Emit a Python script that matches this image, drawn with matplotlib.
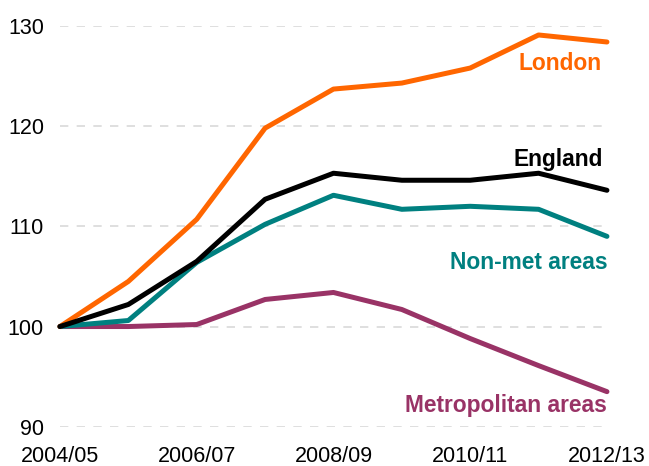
import matplotlib
matplotlib.use('Agg')
import matplotlib.pyplot as plt

plt.rcParams['font.family'] = ['Liberation Sans', 'DejaVu Sans']

years = ['2004/05', '2005/06', '2006/07', '2007/08', '2008/09',
         '2009/10', '2010/11', '2011/12', '2012/13']
london = [100, 104.5, 110.7, 119.8, 123.7, 124.3, 125.8, 129.1, 128.4]
england = [100, 102.2, 106.5, 112.7, 115.3, 114.6, 114.6, 115.3, 113.6]
nonmet = [100, 100.6, 106.4, 110.2, 113.1, 111.7, 112.0, 111.7, 109.0]
metro = [100, 100.0, 100.2, 102.7, 103.4, 101.7, 98.8, 96.1, 93.5]
yticks = [90, 100, 110, 120, 130]

fig = plt.figure(figsize=(6.49, 4.66), dpi=100)
ax = fig.add_axes([0.0924, 0.0843, 0.8428, 0.86])

x = list(range(len(years)))
for yv in yticks:
    ax.axhline(yv, color='#D9D9D9', lw=1.2, dashes=(5, 5), zorder=0)

lw = 3.6
ax.plot(x, metro, color='#993366', lw=lw, clip_on=False, solid_capstyle='round')
ax.plot(x, nonmet, color='#008080', lw=lw, clip_on=False, solid_capstyle='round')
ax.plot(x, london, color='#FF6600', lw=lw, clip_on=False, solid_capstyle='round')
ax.plot(x, england, color='#000000', lw=lw, clip_on=False, solid_capstyle='round')

fs = 16.4
ax.text(7.92, 125.57, 'London', color='#FF6600', fontsize=fs, fontweight='bold', ha='right', va='baseline')
ax.text(7.94, 116.07, 'England', color='#000000', fontsize=fs, fontweight='bold', ha='right', va='baseline')
ax.text(8.01, 105.77, 'Non-met areas', color='#008080', fontsize=fs, fontweight='bold', ha='right', va='baseline')
ax.text(8.0, 91.5, 'Metropolitan areas', color='#993366', fontsize=fs, fontweight='bold', ha='right', va='baseline')

ax.set_xlim(0, 8)
ax.set_ylim(90, 130)
ax.set_yticks(yticks)
ax.set_xticks(x[::2])
ax.set_xticklabels(years[::2])
ax.tick_params(axis='both', length=0, labelsize=15.5)
ax.tick_params(axis='y', pad=11.5)
ax.tick_params(axis='x', pad=14)
for s in ax.spines.values():
    s.set_visible(False)

fig.savefig('out.png', dpi=100)
